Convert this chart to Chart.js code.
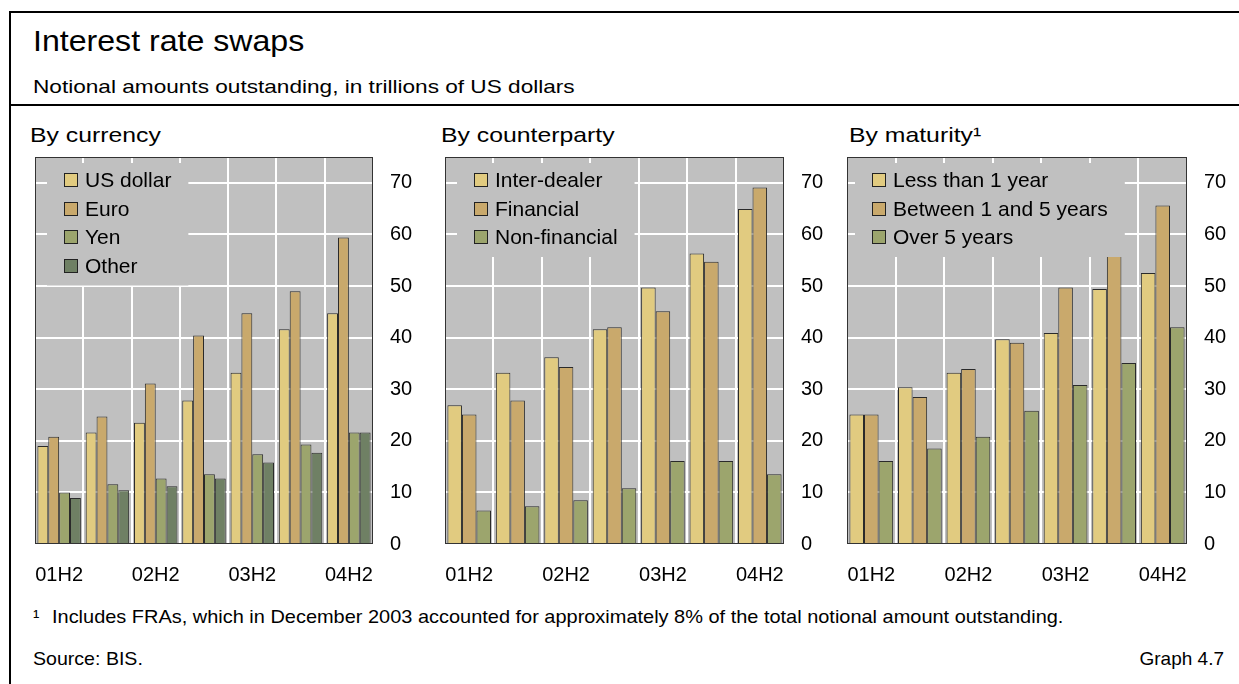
<!DOCTYPE html>
<html>
<head>
<meta charset="utf-8">
<title>Interest rate swaps</title>
<script src="https://cdn.jsdelivr.net/npm/chart.js@4.4.1/dist/chart.umd.min.js"></script>
<style>
  body { margin: 0; width: 1239px; height: 684px; background: #fff; position: relative; overflow: hidden;
         font-family: "Liberation Sans", Arial, sans-serif; color: #000; }
  .txt { position: absolute; white-space: nowrap; line-height: 1; transform-origin: 0 0; }
  .rule { position: absolute; background: #000; }
  canvas { position: absolute; }
</style>
</head>
<body>
<div class="rule" style="left:9px;top:11px;width:2px;height:673px"></div>
<div class="rule" style="left:9px;top:11px;width:1230px;height:2px"></div>
<div class="rule" style="left:9px;top:104px;width:1230px;height:2px"></div>

<div class="txt" style="left:33px;top:26px;font-size:30px;transform:scaleX(1.07)">Interest rate swaps</div>
<div class="txt" style="left:33px;top:77px;font-size:19px;transform:scaleX(1.19)">Notional amounts outstanding, in trillions of US dollars</div>

<div class="txt" style="left:30px;top:124px;font-size:21px;transform:scaleX(1.18)">By currency</div>
<div class="txt" style="left:441px;top:124px;font-size:21px;transform:scaleX(1.18)">By counterparty</div>
<div class="txt" style="left:849px;top:124px;font-size:21px;transform:scaleX(1.18)">By maturity¹</div>

<canvas id="currency" width="405" height="450" style="left:25px;top:150px"></canvas>
<canvas id="counterparty" width="406" height="450" style="left:435px;top:150px"></canvas>
<canvas id="maturity" width="402" height="450" style="left:837px;top:150px"></canvas>

<div class="txt" style="left:33px;top:607px;font-size:19px">¹</div>
<div class="txt" style="left:52px;top:607px;font-size:19px;transform:scaleX(1.05)">Includes FRAs, which in December 2003 accounted for approximately 8% of the total notional amount outstanding.</div>
<div class="txt" style="left:33px;top:649px;font-size:19px;transform:scaleX(1.03)">Source: BIS.</div>
<div class="txt" style="right:15px;top:649px;font-size:19px">Graph 4.7</div>

<script>
// half-year periods, only the H2 ones get a label
const periods = ['01H2', '02H1', '02H2', '03H1', '03H2', '04H1', '04H2'];

// by currency
const usDollar = [19.0, 21.6, 23.5, 27.8, 33.2, 41.6, 44.7];
const euro     = [20.8, 24.7, 31.1, 40.4, 44.7, 49.0, 59.4];
const yen      = [10.0, 11.6, 12.7, 13.5, 17.4, 19.3, 21.6];
const other    = [8.9, 10.4, 11.2, 12.7, 15.8, 17.7, 21.6];

// by counterparty
const interDealer  = [26.9, 33.2, 36.2, 41.6, 49.7, 56.3, 64.9];
const financial    = [25.1, 27.8, 34.3, 42.0, 45.1, 54.7, 69.1];
const nonFinancial = [6.5, 7.3, 8.5, 10.8, 16.1, 16.1, 13.5];

// by maturity
const lessThan1y    = [25.1, 30.4, 33.2, 39.7, 40.9, 49.4, 52.5];
const between1and5y = [25.1, 28.5, 33.9, 39.0, 49.7, 57.0, 65.6];
const over5y        = [16.1, 18.5, 20.8, 25.8, 30.8, 35.1, 42.0];

const yTicks = [0, 10, 20, 30, 40, 50, 60, 70];

const C_LIGHT = '#e1cb80';
const C_TAN = '#c9a96c';
const C_GREEN = '#9ca56d';
const C_DARK = '#6f8064';
const PLOT_BG = '#c0c0c0';

Chart.defaults.font.family = '"Liberation Sans", Arial, sans-serif';
Chart.defaults.color = '#000';

// grey plot background under the grid, thin dark frame on top of everything
const plotBg = {
  id: 'plotBg',
  beforeDraw(chart) {
    const { ctx, chartArea: a } = chart;
    ctx.save();
    ctx.fillStyle = PLOT_BG;
    ctx.fillRect(a.left, a.top, a.right - a.left, a.bottom - a.top);
    ctx.restore();
  },
  afterDraw(chart) {
    const { ctx, chartArea: a } = chart;
    ctx.save();
    ctx.strokeStyle = '#333';
    ctx.lineWidth = 1;
    ctx.strokeRect(Math.round(a.left) + 0.5, Math.round(a.top) + 0.5,
                   Math.round(a.right - a.left) - 1, Math.round(a.bottom - a.top) - 1);
    ctx.restore();
  }
};

// legend sitting inside the plot on its own grey patch, drawn over the bars
const boxLegend = {
  id: 'boxLegend',
  afterDatasetsDraw(chart, args, opts) {
    const { ctx, chartArea: a } = chart;
    const sets = chart.data.datasets;
    ctx.save();
    ctx.font = '21px "Liberation Sans", Arial, sans-serif';
    const textW = Math.max(...sets.map(d => ctx.measureText(d.label).width));
    const x0 = a.left + opts.dx, y0 = a.top + 6;
    const w = 17 + 14 + 7 + textW + 17;
    const h = 17 + (sets.length - 1) * 28.5 + 20;
    ctx.fillStyle = PLOT_BG;
    ctx.fillRect(x0, y0, w, h);
    ctx.textBaseline = 'middle';
    sets.forEach((d, i) => {
      const cy = Math.round(y0 + 17 + i * 28.5);
      ctx.fillStyle = d.backgroundColor;
      ctx.fillRect(x0 + 17, cy - 7, 14, 14);
      ctx.strokeStyle = '#222';
      ctx.lineWidth = 1;
      ctx.strokeRect(x0 + 17.5, cy - 6.5, 13, 13);
      ctx.fillStyle = '#000';
      ctx.fillText(d.label, x0 + 38, cy + 1);
    });
    ctx.restore();
  }
};

// fixed axis sizes, and no extra room reserved for overhanging tick labels
function fixSize(s, w, h) {
  if (w != null) s.width = w;
  if (h != null) s.height = h;
  s.paddingTop = s.paddingBottom = s.paddingLeft = s.paddingRight = 0;
}

function makeChart(id, series, axisWidth, legendDx) {
  return new Chart(document.getElementById(id), {
    type: 'bar',
    data: {
      labels: periods,
      datasets: series.map(s => ({
        label: s.label,
        data: s.data,
        backgroundColor: s.color,
        borderColor: '#2a2a2a',
        borderWidth: 1,
        borderSkipped: 'bottom',
        categoryPercentage: 0.9,
        barPercentage: 1.0
      }))
    },
    options: {
      responsive: false,
      devicePixelRatio: 1,
      animation: false,
      layout: { padding: { left: 10, top: 7, right: 0, bottom: 0 } },
      plugins: {
        legend: { display: false },
        tooltip: { enabled: false },
        boxLegend: { dx: legendDx }
      },
      scales: {
        x: {
          grid: { color: '#fff', lineWidth: 2, offset: true, drawTicks: false },
          border: { display: false },
          ticks: {
            font: { size: 20 },
            padding: 19,
            autoSkip: false,
            maxRotation: 0,
            callback: (v, i) => (i % 2 === 0 ? periods[i] : '')
          },
          afterFit: s => fixSize(s, null, 56)
        },
        y: {
          position: 'right',
          min: 0,
          max: 75,
          grid: { color: '#fff', lineWidth: 2, drawTicks: false },
          border: { display: false },
          afterBuildTicks: s => { s.ticks = yTicks.map(v => ({ value: v })); },
          ticks: {
            font: { size: 20 },
            padding: 17,
            crossAlign: 'near'
          },
          afterFit: s => fixSize(s, axisWidth, null)
        }
      }
    },
    plugins: [plotBg, boxLegend]
  });
}

makeChart('currency', [
  { label: 'US dollar', data: usDollar, color: C_LIGHT },
  { label: 'Euro', data: euro, color: C_TAN },
  { label: 'Yen', data: yen, color: C_GREEN },
  { label: 'Other', data: other, color: C_DARK }
], 57, 12);

makeChart('counterparty', [
  { label: 'Inter-dealer', data: interDealer, color: C_LIGHT },
  { label: 'Financial', data: financial, color: C_TAN },
  { label: 'Non-financial', data: nonFinancial, color: C_GREEN }
], 57, 12);

makeChart('maturity', [
  { label: 'Less than 1 year', data: lessThan1y, color: C_LIGHT },
  { label: 'Between 1 and 5 years', data: between1and5y, color: C_TAN },
  { label: 'Over 5 years', data: over5y, color: C_GREEN }
], 52, 8);
</script>
</body>
</html>
